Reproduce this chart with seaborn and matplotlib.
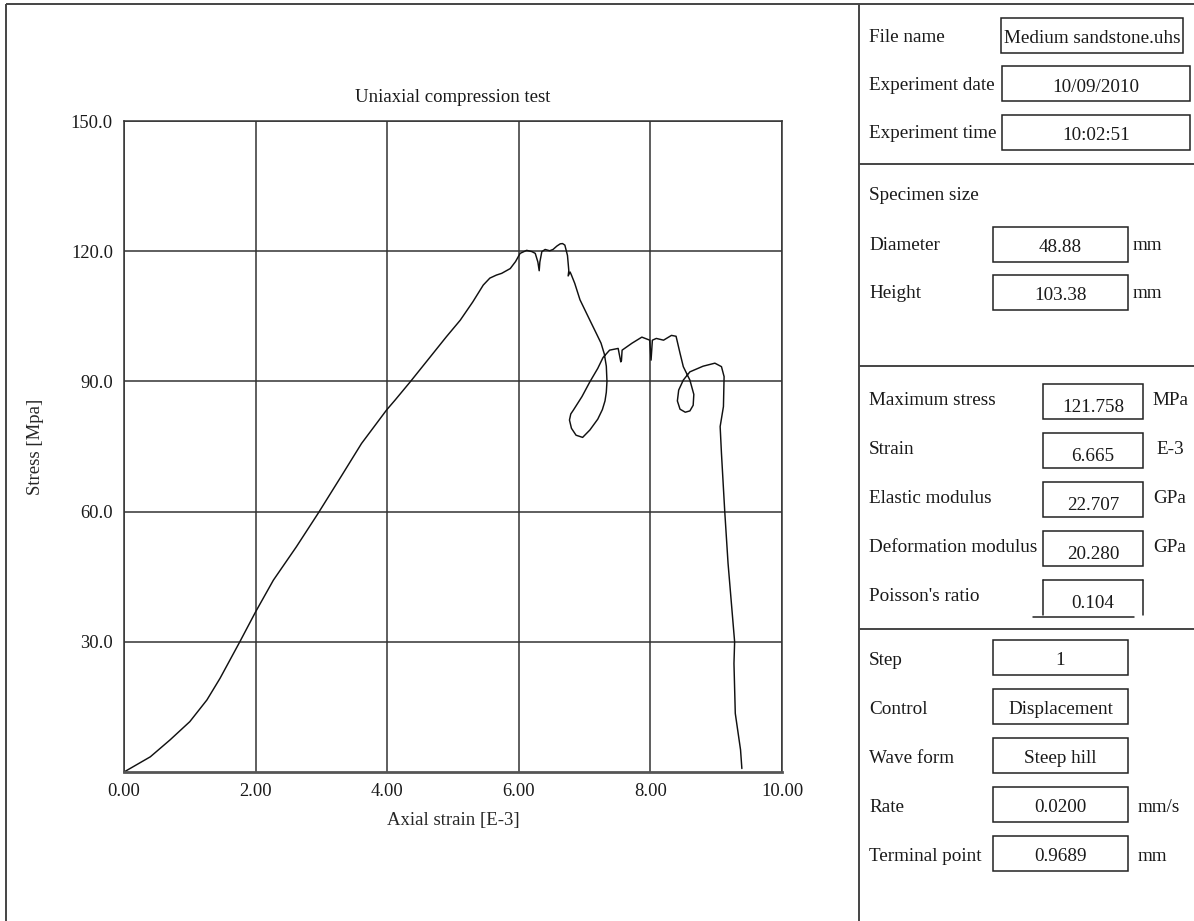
import matplotlib
matplotlib.use("Agg")
import matplotlib.pyplot as plt
from matplotlib.patches import Rectangle
import pandas as pd
import seaborn as sns

# ---- stress-strain record (axial strain in E-3, stress in MPa) ----
strain = [0.00, 0.40, 0.70, 1.00, 1.26, 1.46, 1.76, 2.00, 2.27, 2.62, 2.95, 3.30,
          3.61, 3.99, 4.12, 4.35, 4.62, 4.90, 5.11, 5.30, 5.46, 5.56, 5.66, 5.74,
          5.87, 5.95, 6.02, 6.12, 6.20, 6.25, 6.29, 6.31, 6.32, 6.35, 6.40, 6.47,
          6.52, 6.58, 6.63, 6.665, 6.70, 6.74, 6.76, 6.75, 6.78, 6.80, 6.85, 6.93,
          7.08, 7.18, 7.25, 7.30, 7.33, 7.34, 7.33, 7.31, 7.27, 7.20, 7.08, 6.97,
          6.87, 6.80, 6.77, 6.79, 6.83, 6.96, 7.08, 7.20, 7.28, 7.38, 7.51, 7.55,
          7.56, 7.57, 7.72, 7.87, 7.99, 8.01, 8.03, 8.09, 8.20, 8.32, 8.39, 8.45,
          8.50, 8.60, 8.66, 8.65, 8.60, 8.53, 8.45, 8.41, 8.43, 8.50, 8.60, 8.80,
          8.98, 9.08, 9.12, 9.11, 9.06, 9.08, 9.13, 9.18, 9.28, 9.27, 9.29, 9.37,
          9.39]
stress = [0.0, 3.5, 7.4, 11.6, 16.6, 21.6, 30.0, 36.9, 44.2, 51.9, 59.6, 68.1,
          75.7, 83.4, 85.7, 89.9, 95.0, 100.3, 104.1, 108.3, 112.2, 113.8, 114.5, 114.9,
          116.0, 117.6, 119.5, 120.2, 119.9, 119.5, 117.5, 115.5, 117.5, 119.9, 120.4, 120.1,
          120.4, 121.2, 121.7, 121.758, 121.4, 119.0, 115.5, 114.3, 115.2, 114.5, 112.6, 108.8,
          104.1, 101.0, 98.8, 96.3, 93.5, 90.0, 87.5, 85.5, 83.5, 81.3, 78.8, 77.1,
          77.6, 79.2, 81.1, 82.5, 83.4, 86.5, 89.9, 93.0, 95.5, 97.2, 97.6, 94.5,
          94.8, 97.2, 98.8, 100.2, 99.5, 94.9, 99.5, 99.9, 99.5, 100.6, 100.4, 96.5,
          93.4, 90.3, 87.0, 84.5, 83.2, 82.9, 83.6, 85.5, 88.0, 90.3, 92.2, 93.5,
          94.2, 93.4, 91.1, 84.2, 79.6, 73.4, 60.0, 48.1, 30.0, 25.0, 13.5, 5.1,
          0.8]

x_ticks = [0, 2, 4, 6, 8, 10]
y_ticks = [30, 60, 90, 120, 150]

# ---- test report fields ----
file_labels = ["File name", "Experiment date", "Experiment time"]
file_values = ["Medium sandstone.uhs", "10/09/2010", "10:02:51"]

size_title = "Specimen size"
size_labels = ["Diameter", "Height"]
size_values = ["48.88", "103.38"]
size_units = ["mm", "mm"]

result_labels = ["Maximum stress", "Strain", "Elastic modulus",
                 "Deformation modulus", "Poisson's ratio"]
result_values = ["121.758", "6.665", "22.707", "20.280", "0.104"]
result_units = ["MPa", "E-3", "GPa", "GPa", ""]

step_labels = ["Step", "Control", "Wave form", "Rate", "Terminal point"]
step_values = ["1", "Displacement", "Steep hill", "0.0200", "0.9689"]
step_units = ["", "", "", "mm/s", "mm"]

sns.set_theme(style="white")
plt.rcParams["font.family"] = ["Liberation Serif", "DejaVu Serif"]
plt.rcParams["text.color"] = "#1a1a1a"

W, H = 1194, 921
fig = plt.figure(figsize=(W / 100, H / 100), dpi=100)
fig.patch.set_facecolor("white")

# ---- chart ----
ax = fig.add_axes([124 / W, 1 - 772 / H, 658 / W, 651 / H])
df = pd.DataFrame({"strain": strain, "stress": stress})
sns.lineplot(data=df, x="strain", y="stress", sort=False, estimator=None,
             color="#111111", linewidth=1.05, ax=ax)
ax.set_xlim(0, 10)
ax.set_ylim(0, 150)
ax.set_xticks(x_ticks)
ax.set_yticks(y_ticks)
ax.set_xticklabels([f"{v:.2f}" for v in x_ticks])
ax.set_yticklabels([f"{v:.1f}" for v in y_ticks])
ax.tick_params(axis="both", length=0, labelsize=13.3, colors="#1a1a1a")
ax.tick_params(axis="x", pad=8)
ax.tick_params(axis="y", pad=8)
ax.grid(True, color="#333333", linewidth=1.1)
for side, sp in ax.spines.items():
    sp.set_visible(True)
    sp.set_color("#333333")
    sp.set_linewidth(1.1)
ax.spines["bottom"].set_linewidth(2.0)
ax.spines["bottom"].set_color("#555555")
ax.set_title("Uniaxial compression test", fontsize=13.5, pad=14)
ax.set_xlabel("Axial strain [E-3]", fontsize=13.5)
ax.set_ylabel("Stress [Mpa]", fontsize=13.5)
ax.xaxis.set_label_coords(0.5, -0.062)
ax.yaxis.set_label_coords(-0.122, 0.5)

# ---- report panel (drawn in pixel space) ----
pn = fig.add_axes([0, 0, 1, 1], zorder=-1)
pn.set_xlim(0, W)
pn.set_ylim(H, 0)
pn.axis("off")

frame_kw = dict(color="#444444", linewidth=1.4, solid_capstyle="butt")
pn.plot([6, 6], [4, H], **frame_kw)
pn.plot([6, W], [4, 4], **frame_kw)
pn.plot([859, 859], [4, H], **frame_kw)
for yy in [164, 366, 629]:
    pn.plot([859, W], [yy, yy], **frame_kw)

FS = 13.8
LX = 869
box_kw = dict(fill=False, edgecolor="#222222", linewidth=1.1)


def label(y, s):
    pn.text(LX, y + 2, s, fontsize=FS, ha="left", va="center")


def box(x0, x1, top, h=35, value="", vy=None, open_box=False):
    if open_box:
        pn.plot([x0, x1], [top, top], color="#222222", lw=1.1)
        pn.plot([x0, x0], [top, top + h], color="#222222", lw=1.1)
        pn.plot([x1, x1], [top, top + h], color="#222222", lw=1.1)
        pn.plot([x0 - 10, x1 - 9], [top + h + 2, top + h + 2], color="#222222", lw=1.1)
    else:
        pn.add_patch(Rectangle((x0, top), x1 - x0, h, **box_kw))
    cy = top + h / 2 if vy is None else vy
    pn.text((x0 + x1) / 2, cy + 3, value, fontsize=FS, ha="center", va="center")


# file information
file_boxes = [(1001, 1183), (1002, 1190), (1002, 1190)]
for i, (lab, val) in enumerate(zip(file_labels, file_values)):
    top = 18 + i * 48.5
    label(top + 17, lab)
    box(*file_boxes[i], top, value=val)

# specimen size
label(193, size_title)
for i, (lab, val, unit) in enumerate(zip(size_labels, size_values, size_units)):
    top = 227 + i * 48
    label(top + 16, lab)
    box(993, 1128, top, value=val)
    pn.text(1133, top + 18, unit, fontsize=FS, ha="left", va="center")

# test results
for i, (lab, val, unit) in enumerate(zip(result_labels, result_values, result_units)):
    top = 384 + i * 49
    label(top + 14, lab)
    box(1043, 1143, top, value=val, vy=top + 20,
        open_box=(i == len(result_labels) - 1))
    if unit:
        pn.text(1170, top + 16, unit, fontsize=FS, ha="center", va="center")

# loading program
for i, (lab, val, unit) in enumerate(zip(step_labels, step_values, step_units)):
    top = 640 + i * 49
    label(top + 18, lab)
    box(993, 1128, top, value=val)
    if unit:
        pn.text(1138, top + 20, unit, fontsize=FS, ha="left", va="center")

fig.savefig("out.png", dpi=100, facecolor="white")
